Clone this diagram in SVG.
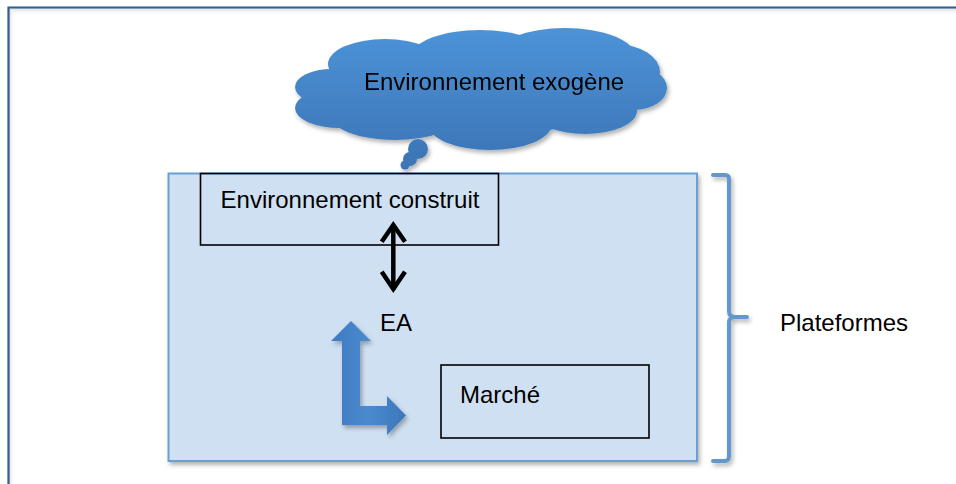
<svg xmlns="http://www.w3.org/2000/svg" width="956" height="484" viewBox="0 0 956 484">
<defs>
<style>
.t{font-family:"Liberation Sans",Arial,sans-serif;font-size:24px;fill:#000}
.box{fill:none;stroke:#000;stroke-width:1.6}
</style>
<linearGradient id="cloudG" gradientUnits="userSpaceOnUse" x1="0" y1="28" x2="0" y2="170">
<stop offset="0" stop-color="#4c93d8"/>
<stop offset="1" stop-color="#3b73b4"/>
</linearGradient>
<linearGradient id="arrG" gradientUnits="userSpaceOnUse" x1="332" y1="0" x2="406" y2="0">
<stop offset="0" stop-color="#3f7bc0"/>
<stop offset="0.5" stop-color="#4a8ad0"/>
<stop offset="1" stop-color="#3c76b8"/>
</linearGradient>
<linearGradient id="topSh" x1="0" y1="0" x2="0" y2="1">
<stop offset="0" stop-color="#d9d9d9"/>
<stop offset="1" stop-color="#ffffff" stop-opacity="0"/>
</linearGradient>
<linearGradient id="leftSh" x1="0" y1="0" x2="1" y2="0">
<stop offset="0" stop-color="#dcdcdc"/>
<stop offset="1" stop-color="#ffffff" stop-opacity="0"/>
</linearGradient>
<filter id="sh" x="-10%" y="-10%" width="125%" height="130%">
<feDropShadow dx="2" dy="3" stdDeviation="2" flood-color="#000" flood-opacity="0.3"/>
</filter>
</defs>
<rect width="956" height="484" fill="#fff"/>
<g id="frame">
<rect x="9" y="8" width="947" height="8" fill="url(#topSh)"/>
<rect x="9" y="8" width="6" height="476" fill="url(#leftSh)"/>
<path d="M8.5 484 V7.5 H956" fill="none" stroke="#2e5e96" stroke-width="2.2"/>
</g>
<g id="plateformes-zone">
<rect x="168.5" y="173.5" width="528.5" height="287.5" fill="#cfe0f2" stroke="#6a9fd6" stroke-width="2" filter="url(#sh)"/>
</g>
<g id="cloud" filter="url(#sh)" fill="url(#cloudG)">
<ellipse cx="385" cy="64" rx="57" ry="25"/>
<ellipse cx="480" cy="56" rx="68" ry="26"/>
<ellipse cx="565" cy="56" rx="70" ry="28"/>
<ellipse cx="615" cy="72" rx="45" ry="28"/>
<ellipse cx="634" cy="88" rx="33" ry="22"/>
<ellipse cx="585" cy="111" rx="52" ry="23"/>
<ellipse cx="490" cy="124" rx="62" ry="26"/>
<ellipse cx="395" cy="115" rx="65" ry="25"/>
<ellipse cx="340" cy="108" rx="45" ry="20"/>
<ellipse cx="332" cy="87" rx="37" ry="18"/>
<ellipse cx="480" cy="90" rx="150" ry="45"/>
<circle cx="418" cy="149" r="10"/>
<circle cx="410" cy="159" r="7"/>
<circle cx="405" cy="165" r="4.5"/>
<text class="t" x="494" y="90" text-anchor="middle">Environnement exogène</text>
</g>
<g id="env-construit">
<rect class="box" x="200.5" y="173.5" width="298" height="71.5"/>
<text class="t" x="350" y="208" text-anchor="middle">Environnement construit</text>
</g>
<g id="ea">
<text class="t" x="396" y="331" text-anchor="middle">EA</text>
</g>
<g id="marche">
<rect class="box" x="441" y="365" width="208" height="73"/>
<text class="t" x="460" y="403">Marché</text>
</g>
<g id="bracket">
<path d="M713 175 H725 Q729 175 729 179 V311 Q729 317 735 317 H747 M735 317 Q729 317 729 323 V456 Q729 461 725 461 H713" fill="none" stroke="#6398cc" stroke-width="4" stroke-linecap="round" filter="url(#sh)"/>
<text class="t" x="780" y="331">Plateformes</text>
</g>
<g id="connectors">
<path d="M393.3 225 V290" stroke="#000" stroke-width="4.5" fill="none"/>
<polyline points="381.7,241.7 393.3,225 405,241.7" stroke="#000" stroke-width="4.5" fill="none"/>
<polyline points="381.7,271.7 393.3,289 405,271.7" stroke="#000" stroke-width="4.5" fill="none"/>
<path d="M351 321 L371 341 L360 341 L360 406 L387 406 L387 396 L406 415.5 L387 435 L387 425 L342 425 L342 341 L331 341 Z" fill="url(#arrG)" filter="url(#sh)"/>
</g>
</svg>
